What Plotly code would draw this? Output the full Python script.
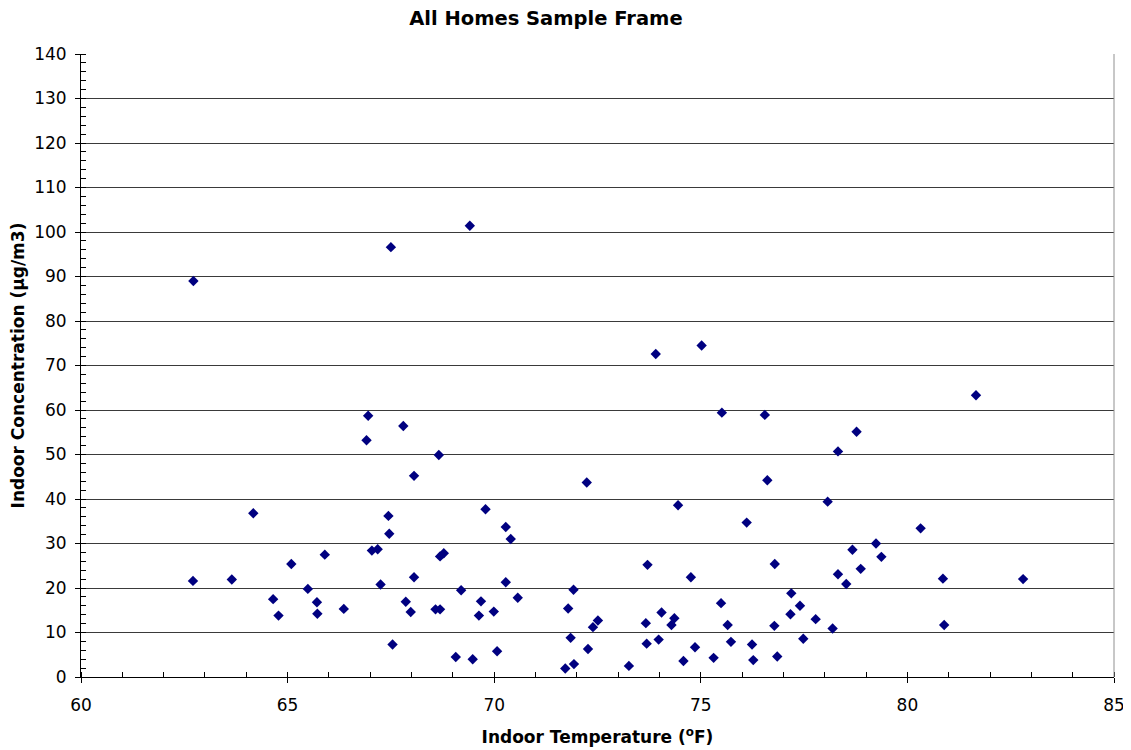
import plotly.graph_objects as go

# Indoor temperature (F) and indoor concentration (ug/m3)
temp = [62.72, 67.50, 66.95, 66.91, 67.80, 68.66, 69.41, 73.91, 75.02, 75.51,
        76.55, 78.32, 81.66, 78.77, 68.06, 64.17, 67.44, 67.46, 67.04, 67.18,
        68.69, 68.78, 65.90, 65.09, 62.71, 63.65, 68.06, 67.25, 65.49, 69.20,
        64.65, 65.71, 67.86, 66.36, 68.58, 68.69, 64.78, 65.72, 67.98, 67.54,
        69.07, 72.24, 76.61, 69.79, 74.45, 78.07, 70.28, 70.40, 76.11, 73.71,
        76.79, 78.32, 74.76, 70.28, 71.92, 69.68, 70.57, 75.49, 77.19, 77.40,
        69.63, 69.99, 71.79, 74.05, 77.17, 77.78, 72.51, 72.39, 73.67, 74.36,
        74.29, 75.65, 76.78, 78.19, 71.85, 73.69, 73.98, 75.73, 76.24, 77.48,
        72.27, 74.86, 70.07, 69.48, 74.58, 75.31, 76.27, 76.85, 71.72, 71.93,
        73.26, 80.32, 79.24, 78.67, 79.37, 78.87, 78.52, 80.86, 82.80, 80.89]
conc = [89.0, 96.6, 58.7, 53.2, 56.4, 49.9, 101.4, 72.6, 74.5, 59.4,
        58.9, 50.7, 63.3, 55.1, 45.2, 36.8, 36.2, 32.2, 28.4, 28.7,
        27.1, 27.8, 27.5, 25.4, 21.6, 21.9, 22.4, 20.8, 19.8, 19.5,
        17.5, 16.8, 16.9, 15.3, 15.2, 15.2, 13.8, 14.2, 14.6, 7.3,
        4.5, 43.7, 44.2, 37.7, 38.6, 39.4, 33.7, 31.0, 34.7, 25.2,
        25.4, 23.1, 22.4, 21.3, 19.6, 17.0, 17.8, 16.6, 18.8, 16.0,
        13.8, 14.7, 15.4, 14.5, 14.1, 13.0, 12.7, 11.2, 12.1, 13.2,
        11.7, 11.7, 11.5, 10.9, 8.8, 7.5, 8.4, 7.9, 7.3, 8.6,
        6.3, 6.7, 5.8, 4.0, 3.6, 4.3, 3.8, 4.6, 1.9, 2.9,
        2.5, 33.4, 30.0, 28.6, 27.0, 24.3, 20.9, 22.1, 22.0, 11.7]

font = "DejaVu Sans, Verdana, sans-serif"

fig = go.Figure()
fig.add_trace(go.Scatter(
    x=temp, y=conc, mode="markers",
    marker=dict(symbol="diamond", size=8, color="#000080"),
    showlegend=False,
))

# page body adds an 8px margin, so the figure is 8px smaller than the window
fig.update_layout(
    width=1123, height=742,
    margin=dict(l=73, r=17, t=46, b=73, autoexpand=False),
    paper_bgcolor="white", plot_bgcolor="white",
    font=dict(family=font, size=17, color="black"),
    title=dict(text="<b>All Homes Sample Frame</b>", x=0.479, xanchor="center",
               yref="container", y=0.9865, yanchor="middle", font=dict(size=19.5)),
    xaxis=dict(
        range=[60, 85], dtick=5, tick0=60, showgrid=False, zeroline=False,
        showline=True, linecolor="black", linewidth=1, automargin=False,
        ticks="outside", ticklen=5, tickcolor="black", ticklabelstandoff=8,
        minor=dict(dtick=1, ticks="inside", ticklen=5, tickcolor="black"),
        title=dict(text="<b>Indoor Temperature (<sup>o</sup>F)</b>",
                   font=dict(size=17), standoff=16),
    ),
    yaxis=dict(
        range=[0, 140], dtick=10, showgrid=True, gridcolor="#3a3a3a", gridwidth=1,
        zeroline=False, showline=True, linecolor="black", linewidth=1, automargin=False,
        ticks="outside", ticklen=5, tickcolor="black", ticklabelstandoff=5,
        minor=dict(dtick=2, ticks="inside", ticklen=5, tickcolor="black", showgrid=False),
        title=dict(text="<b>Indoor Concentration (µg/m3)</b>",
                   font=dict(size=17), standoff=14),
    ),
    shapes=[dict(type="line", xref="paper", yref="paper", x0=1, x1=1, y0=0, y1=1,
                 line=dict(color="#909090", width=1))],
)

fig.write_html("out.html")
